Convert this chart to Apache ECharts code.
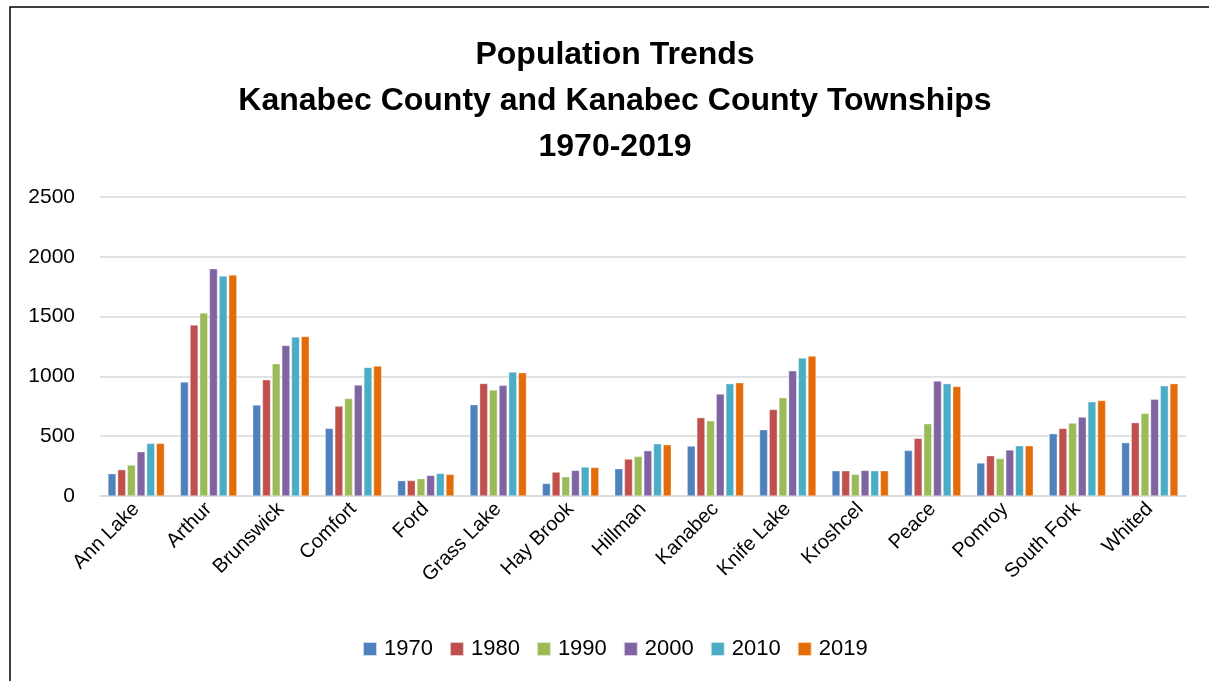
<!DOCTYPE html>
<html>
<head>
<meta charset="utf-8">
<script src="https://cdn.jsdelivr.net/npm/echarts@6/dist/echarts.min.js"></script>
<style>html,body{margin:0;padding:0;background:#fff;}#c{width:1209px;height:681px;}</style>
</head>
<body>
<div id="c"></div>
<script>
const categories = ['Ann Lake','Arthur','Brunswick','Comfort','Ford','Grass Lake','Hay Brook','Hillman','Kanabec','Knife Lake','Kroshcel','Peace','Pomroy','South Fork','Whited'];
const years = ['1970','1980','1990','2000','2010','2019'];
const v1970 = [186, 953, 761, 565, 128, 763, 105, 228, 418, 554, 211, 381, 276, 521, 446];
const v1980 = [220, 1430, 972, 752, 130, 941, 200, 309, 655, 724, 211, 482, 337, 565, 613];
const v1990 = [259, 1530, 1106, 816, 145, 886, 161, 331, 629, 822, 181, 604, 314, 610, 691];
const v2000 = [370, 1900, 1259, 928, 172, 925, 214, 379, 853, 1047, 214, 961, 385, 660, 808];
const v2010 = [440, 1839, 1329, 1075, 189, 1037, 242, 437, 939, 1154, 211, 939, 420, 788, 922];
const v2019 = [440, 1848, 1334, 1087, 181, 1031, 239, 429, 947, 1170, 211, 916, 420, 799, 939];
const yTicks = [0, 500, 1000, 1500, 2000, 2500];
const colors = ['#4F81BD','#C0504D','#9BBB59','#8064A2','#4BACC6','#E36C09'];
const seriesValues = [v1970, v1980, v1990, v2000, v2010, v2019];

const font = 'Liberation Sans, Arial, sans-serif';
const chart = echarts.init(document.getElementById('c'));
chart.setOption({
  animation: false,
  backgroundColor: '#fff',
  color: colors,
  title: {
    text: 'Population Trends\nKanabec County and Kanabec County Townships\n1970-2019',
    left: 610, top: 27, textAlign: 'center',
    textStyle: { fontFamily: font, fontSize: 32, fontWeight: 'bold', color: '#000', lineHeight: 46 }
  },
  legend: {
    data: years, bottom: 16, left: 357,
    itemWidth: 14, itemHeight: 14, itemGap: 16, icon: 'rect',
    textStyle: { fontFamily: font, fontSize: 22, color: '#000', padding: [0, 0, 0, 2] }
  },
  graphic: [{
    type: 'rect', silent: true, z: 100,
    shape: { x: 10, y: 7, width: 1400, height: 900 },
    style: { fill: 'none', stroke: '#000', lineWidth: 1.5 }
  }],
  grid: { left: 100, right: 23, top: 197, bottom: 185, containLabel: false },
  xAxis: {
    type: 'category', data: categories,
    axisTick: { show: false },
    axisLine: { lineStyle: { color: '#d9d9d9', width: 1.5 } },
    axisLabel: { rotate: 45, interval: 0, fontFamily: font, fontSize: 20, color: '#000', margin: 10 }
  },
  yAxis: {
    type: 'value', min: 0, max: 2500, interval: 500,
    axisLine: { show: false }, axisTick: { show: false },
    splitLine: { lineStyle: { color: '#d9d9d9', width: 1.5 } },
    axisLabel: { fontFamily: font, fontSize: 21, color: '#000', margin: 25,
      formatter: v => yTicks.includes(v) ? String(v) : '' }
  },
  series: years.map((y, i) => ({
    name: y, type: 'bar', data: seriesValues[i],
    barGap: '20%', barCategoryGap: '22%',
    itemStyle: { color: colors[i], borderColor: 'rgba(255,255,255,0.7)', borderWidth: 0.5 }
  }))
});
</script>
</body>
</html>
